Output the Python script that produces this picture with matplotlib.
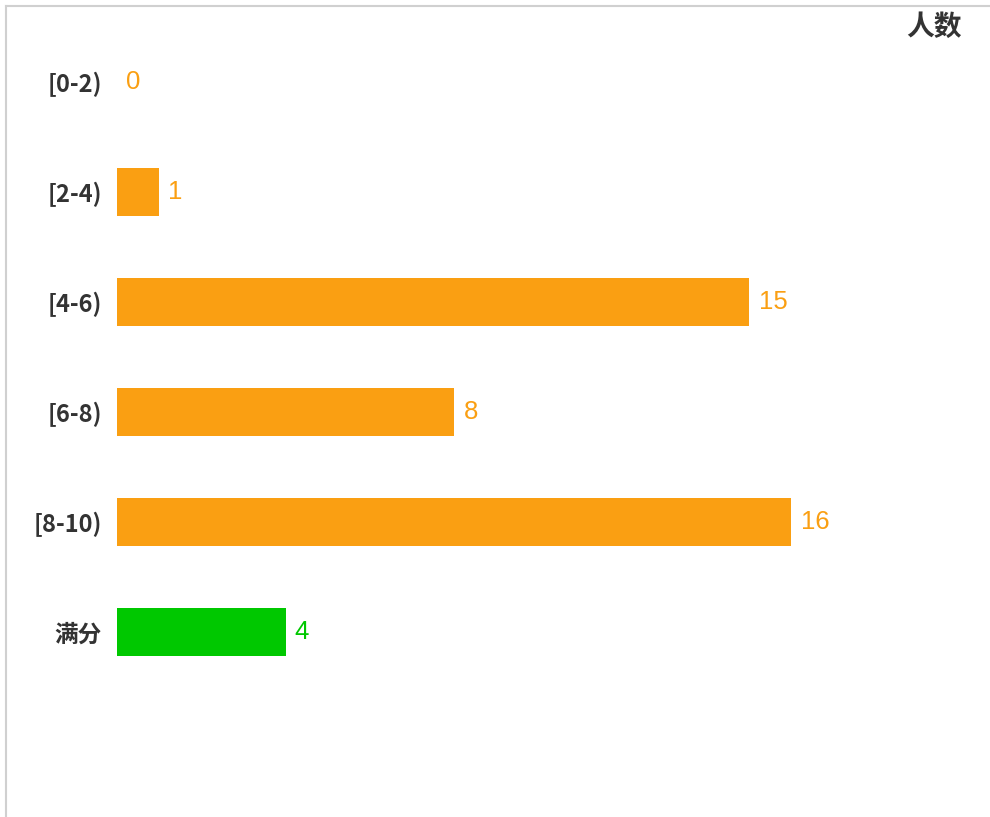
import matplotlib
matplotlib.use("Agg")
import matplotlib.pyplot as plt
from matplotlib.lines import Line2D

plt.rcParams['font.family'] = ['Noto Sans CJK SC', 'DejaVu Sans']

categories = ["[0-2)", "[2-4)", "[4-6)", "[6-8)", "[8-10)", "满分"]
values = [0, 1, 15, 8, 16, 4]
bar_colors = ["#FA9F12", "#FA9F12", "#FA9F12", "#FA9F12", "#FA9F12", "#00C800"]
axis_title = "人数"

W, H = 990, 817
fig = plt.figure(figsize=(W / 100, H / 100), dpi=100)

# axes in pixel coords: x 117..960, y 27..797
x0, x1, yt, yb = 117, 960, 27, 797
ax = fig.add_axes([x0 / W, 1 - yb / H, (x1 - x0) / W, (yb - yt) / H])
ax.set_xlim(0, 20)
ax.set_ylim(6.5, -0.5)

ypos = list(range(len(categories)))
ax.barh(ypos, values, height=48 / 110, color=bar_colors, edgecolor='none')

for y, v, c in zip(ypos, values, bar_colors):
    ax.text(v + 0.22, y, str(v), color=c, fontsize=18.5, va='center', ha='left',
            family=['Liberation Sans', 'DejaVu Sans'])

ax.set_yticks(ypos)
ax.set_yticklabels(categories, fontsize=17, fontweight='bold', color='#333333')
ax.tick_params(axis='y', length=0, pad=11)
ax.set_xticks([])
for s in ax.spines.values():
    s.set_visible(False)

fig.text(934 / W, 1 - 27 / H, axis_title, fontsize=20, fontweight='bold',
         color='#333333', ha='center', va='center')

# outer frame lines (top and left)
fig.add_artist(Line2D([6 / W, 1], [1 - 6 / H, 1 - 6 / H], color='#d0d0d0', lw=1.5))
fig.add_artist(Line2D([6 / W, 6 / W], [0, 1 - 6 / H], color='#d0d0d0', lw=1.5))

fig.savefig("out.png", dpi=100)
